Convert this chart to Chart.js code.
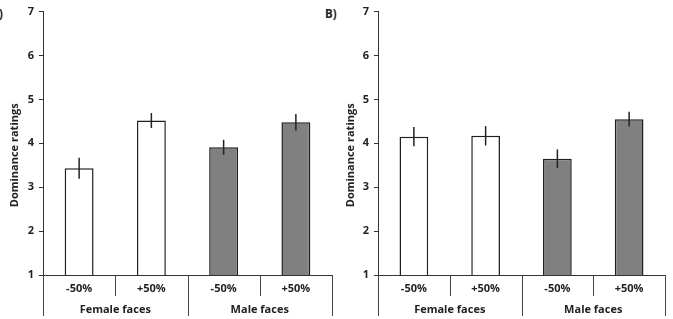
<!DOCTYPE html>
<html>
<head>
<meta charset="utf-8">
<script src="https://cdn.jsdelivr.net/npm/chart.js@4.4.1/dist/chart.umd.min.js"></script>
<style>
    body { margin: 0; background: #fff; width: 673px; height: 319px; position: relative; overflow: hidden; }
    canvas { position: absolute; top: 0; }
    #chartA { left: 0; }
    #chartB { left: 336px; }
    .panel-tag { position: absolute; top: 6px; font: bold 11.5px "Open Sans", sans-serif; color: #222; }
</style>
</head>
<body>
<span class="panel-tag" style="left:-9px">A)</span>
<span class="panel-tag" style="left:325px">B)</span>
<canvas id="chartA" width="336" height="319"></canvas>
<canvas id="chartB" width="337" height="319"></canvas>

<script>
// --- data ---
const categories = ['-50%', '+50%', '-50%', '+50%'];
const groups = ['Female faces', 'Male faces'];
const ratingsA = [3.43, 4.52, 3.91, 4.48];
const errorsA = [0.24, 0.17, 0.17, 0.19];
const ratingsB = [4.15, 4.17, 3.65, 4.55];
const errorsB = [0.22, 0.22, 0.21, 0.17];
const yTicks = [1, 2, 3, 4, 5, 6, 7];
const yTitle = 'Dominance ratings';

const FONT = '"Open Sans", sans-serif';
const INK = '#222';

// error bars, group dividers, labels and y title
const decorPlugin = {
    id: 'decor',
    afterDatasetsDraw(chart) {
        const ctx = chart.ctx;
        const y = chart.scales.y;
        const errs = chart.options.plugins.decor.errors;
        const meta = chart.getDatasetMeta(0);
        ctx.save();
        ctx.strokeStyle = INK;
        ctx.lineWidth = 1.5;
        meta.data.forEach((bar, i) => {
            const v = chart.data.datasets[0].data[i];
            ctx.beginPath();
            ctx.moveTo(bar.x, y.getPixelForValue(v + errs[i]));
            ctx.lineTo(bar.x, y.getPixelForValue(v - errs[i]));
            ctx.stroke();
        });
        ctx.restore();
    },
    afterDraw(chart) {
        const ctx = chart.ctx;
        const x = chart.scales.x;
        const area = chart.chartArea;
        ctx.save();
        // divider lines below axis
        ctx.strokeStyle = '#444';
        ctx.lineWidth = 1;
        for (let i = 0; i <= categories.length; i++) {
            const px = Math.round(x.getPixelForValue(i - 0.5)) + 0.5;
            const len = i % 2 === 0 ? 41 : 21;
            ctx.beginPath();
            ctx.moveTo(px, area.bottom);
            ctx.lineTo(px, area.bottom + len);
            ctx.stroke();
        }
        // sub-category and group labels
        ctx.fillStyle = INK;
        ctx.font = 'bold 11px ' + FONT;
        ctx.textAlign = 'center';
        ctx.textBaseline = 'middle';
        categories.forEach((c, i) => {
            ctx.fillText(c, x.getPixelForValue(i), area.bottom + 14);
        });
        groups.forEach((g, i) => {
            ctx.fillText(g, x.getPixelForValue(i * 2 + 0.5), area.bottom + 35);
        });
        // y title
        ctx.font = 'bold 11px ' + FONT;
        ctx.translate(15, (area.top + area.bottom) / 2 + 12);
        ctx.rotate(-Math.PI / 2);
        ctx.fillText(yTitle, 0, 0);
        ctx.restore();
    }
};

function makeChart(id, values, errors, axisWidth, padRight) {
    new Chart(document.getElementById(id), {
        type: 'bar',
        data: {
            labels: categories,
            datasets: [{
                data: values,
                backgroundColor: ['#ffffff', '#ffffff', '#808080', '#808080'],
                borderColor: '#1e1e1e',
                borderWidth: 1.5,
                borderSkipped: false,
                categoryPercentage: 1,
                barPercentage: 0.4
            }]
        },
        options: {
            responsive: false,
            animation: false,
            layout: { padding: { top: 7, right: padRight, bottom: 0, left: 0 } },
            plugins: {
                legend: { display: false },
                tooltip: { enabled: false },
                decor: { errors: errors }
            },
            scales: {
                x: {
                    ticks: { display: false },
                    grid: { display: false },
                    border: { color: '#333', width: 1 },
                    afterFit: s => { s.height = 44; }
                },
                y: {
                    min: yTicks[0],
                    max: yTicks[yTicks.length - 1],
                    afterBuildTicks: s => { s.ticks = yTicks.map(v => ({ value: v })); },
                    ticks: {
                        color: INK,
                        font: { family: FONT, size: 11, weight: 'bold' },
                        padding: 5
                    },
                    grid: { drawOnChartArea: false, tickLength: 4, color: '#333' },
                    border: { color: '#333', width: 1 },
                    afterFit: s => { s.width = axisWidth; }
                }
            }
        },
        plugins: [decorPlugin]
    });
}

makeChart('chartA', ratingsA, errorsA, 43, 4);
makeChart('chartB', ratingsB, errorsB, 42, 8);
</script>
</body>
</html>
